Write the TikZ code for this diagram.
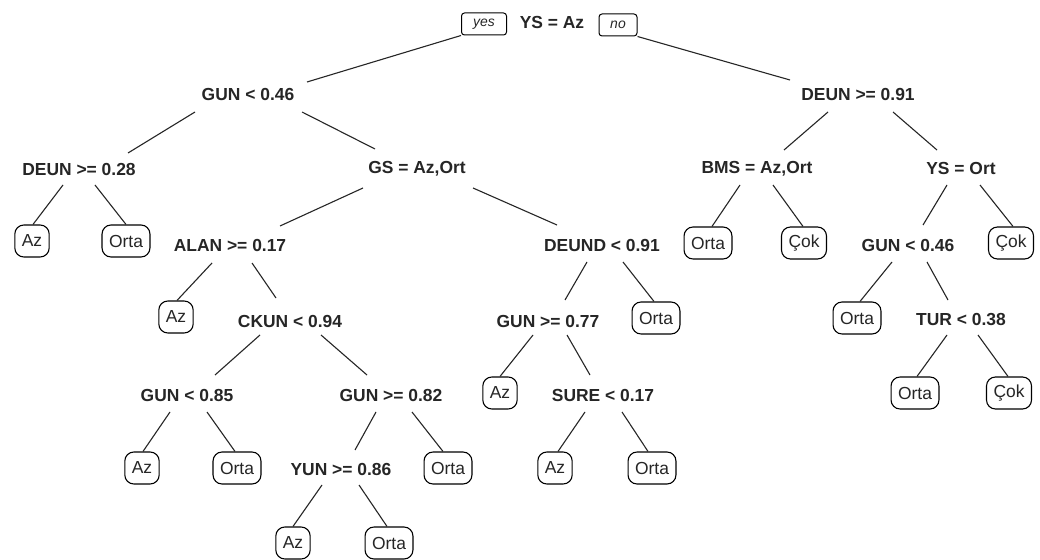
\documentclass[tikz,border=0pt]{standalone}
\usepackage{fontspec}
\setmainfont{Liberation Sans}
\begin{document}
\begin{tikzpicture}[x=1bp,y=-1bp,
  split/.style={font=\fontsize{17.5}{20}\selectfont\bfseries, text=black!85, inner sep=1bp},
  leaf/.style={draw, rounded corners=9bp, font=\fontsize{17.5}{20}\selectfont, text=black!85,
    minimum height=32bp, inner xsep=7bp, inner ysep=0bp, line width=1.1bp},
  yn/.style={draw, rounded corners=3bp, font=\fontsize{14}{16}\selectfont\itshape, text=black!85,
    minimum height=22bp, inner xsep=4bp, inner ysep=0bp, line width=1bp},
  br/.style={line width=1.1bp, draw=black!85}]
\useasboundingbox (0,0) rectangle (1040,560);
\fill[white] (0,0) rectangle (1040,560);
% root
\node[split] (r) at (552,23) {YS = Az};
\node[yn, minimum width=45bp] (yes) at (484,24) {yes};
\node[yn, minimum width=38bp] (no) at (618,25) {no};
% internal nodes
\node[split] (a) at (248,95) {GUN < 0.46};
\node[split] (b) at (858,95) {DEUN >= 0.91};
\node[split] (c) at (79,170) {DEUN >= 0.28};
\node[split] (d) at (417,169) {GS = Az,Ort};
\node[split] (e) at (757,169) {BMS = Az,Ort};
\node[split] (f) at (961,169) {YS = Ort};
\node[split] (g) at (230,245) {ALAN >= 0.17};
\node[split] (h) at (602,245) {DEUND < 0.91};
\node[split] (i) at (908,245) {GUN < 0.46};
\node[split] (j) at (290,321) {CKUN < 0.94};
\node[split] (k) at (548,321) {GUN >= 0.77};
\node[split] (l) at (961,320) {TUR < 0.38};
\node[split] (m) at (187,395) {GUN < 0.85};
\node[split] (n) at (391,395) {GUN >= 0.82};
\node[split] (o) at (603,395) {SURE < 0.17};
\node[split] (p) at (341,469) {YUN >= 0.86};
% leaves
\node[leaf] (L1) at (32,241) {Az};
\node[leaf] (L2) at (126,241) {Orta};
\node[leaf] (L3) at (176,317) {Az};
\node[leaf] (L4) at (708,243) {Orta};
\node[leaf] (L5) at (804,243) {Çok};
\node[leaf] (L6) at (1011,243) {Çok};
\node[leaf] (L7) at (656,318) {Orta};
\node[leaf] (L8) at (857,318) {Orta};
\node[leaf] (L9) at (142,468) {Az};
\node[leaf] (L10) at (237,468) {Orta};
\node[leaf] (L11) at (448,468) {Orta};
\node[leaf] (L12) at (500,393) {Az};
\node[leaf] (L13) at (915,393) {Orta};
\node[leaf] (L14) at (1009,393) {Çok};
\node[leaf] (L15) at (555,468) {Az};
\node[leaf] (L16) at (652,468) {Orta};
\node[leaf] (L17) at (293,543) {Az};
\node[leaf] (L18) at (389,543) {Orta};
% branches
\draw[br] (yes.south west) -- ([shift={(59,-13)}]a.center);
\draw[br] (no.south east) -- ([shift={(-68,-15)}]b.center);
\draw[br] ([shift={(-53,17)}]a.center) -- ([shift={(49,-17)}]c.center);
\draw[br] ([shift={(54,17)}]a.center) -- ([shift={(-42,-20)}]d.center);
\draw[br] ([shift={(-16,15)}]c.center) -- ([xshift=1bp]L1.north);
\draw[br] ([shift={(16,15)}]c.center) -- (L2.north);
\draw[br] ([shift={(-54,19)}]d.center) -- ([shift={(50,-19)}]g.center);
\draw[br] ([shift={(56,19)}]d.center) -- ([shift={(-45,-20)}]h.center);
\draw[br] ([shift={(-18,18)}]g.center) -- ([xshift=1bp]L3.north);
\draw[br] ([shift={(22,18)}]g.center) -- ([shift={(-14,-23)}]j.center);
\draw[br] ([shift={(-30,14)}]j.center) -- ([shift={(28,-20)}]m.center);
\draw[br] ([shift={(31,14)}]j.center) -- ([shift={(-24,-20)}]n.center);
\draw[br] ([shift={(-17,17)}]m.center) -- ([xshift=1bp]L9.north);
\draw[br] ([shift={(20,17)}]m.center) -- ([xshift=-2bp]L10.north);
\draw[br] ([shift={(-15,17)}]n.center) -- ([shift={(14,-19)}]p.center);
\draw[br] ([shift={(21,17)}]n.center) -- ([xshift=-5bp]L11.north);
\draw[br] ([shift={(-19,16)}]p.center) -- (L17.north);
\draw[br] ([shift={(18,16)}]p.center) -- ([xshift=-2bp]L18.north);
\draw[br] ([shift={(-15,17)}]h.center) -- ([shift={(17,-21)}]k.center);
\draw[br] ([shift={(21,17)}]h.center) -- ([xshift=-2bp]L7.north);
\draw[br] ([shift={(-15,14)}]k.center) -- (L12.north);
\draw[br] ([shift={(19,14)}]k.center) -- ([shift={(-13,-20)}]o.center);
\draw[br] ([shift={(-18,17)}]o.center) -- ([xshift=3bp]L15.north);
\draw[br] ([shift={(19,17)}]o.center) -- ([xshift=-4bp]L16.north);
\draw[br] ([shift={(-30,17)}]b.center) -- ([shift={(27,-19)}]e.center);
\draw[br] ([shift={(35,17)}]b.center) -- ([shift={(-24,-19)}]f.center);
\draw[br] ([shift={(-17,16)}]e.center) -- ([xshift=4bp]L4.north);
\draw[br] ([shift={(16,16)}]e.center) -- ([xshift=-1bp]L5.north);
\draw[br] ([shift={(-14,16)}]f.center) -- ([shift={(15,-20)}]i.center);
\draw[br] ([shift={(19,16)}]f.center) -- ([xshift=2bp]L6.north);
\draw[br] ([shift={(-16,17)}]i.center) -- ([xshift=3bp]L8.north);
\draw[br] ([shift={(19,17)}]i.center) -- ([shift={(-13,-20)}]l.center);
\draw[br] ([shift={(-14,15)}]l.center) -- ([xshift=2bp]L13.north);
\draw[br] ([shift={(17,15)}]l.center) -- ([xshift=-1bp]L14.north);
\end{tikzpicture}
\end{document}
